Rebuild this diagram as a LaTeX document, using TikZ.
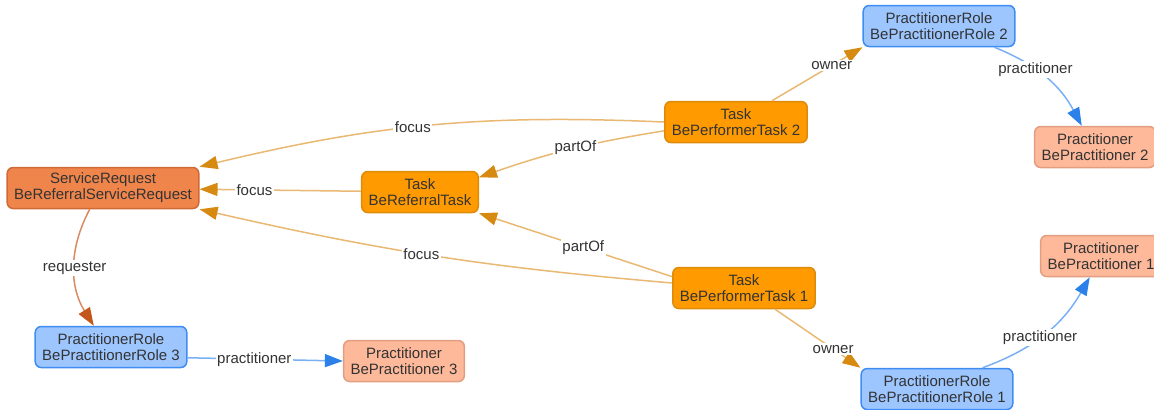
\documentclass[tikz,border=0pt]{standalone}
\usepackage{fontspec}
\setmainfont{Liberation Sans}
\usetikzlibrary{arrows.meta}
\usepackage{xcolor}
\definecolor{mtask}{HTML}{FF9A00}
\definecolor{mtaskd}{HTML}{DE8A0A}
\definecolor{mreq}{HTML}{F0854C}
\definecolor{mreqd}{HTML}{CF6A36}
\definecolor{mrole}{HTML}{9DC6FF}
\definecolor{mroled}{HTML}{3F8DF2}
\definecolor{mprac}{HTML}{FDB99A}
\definecolor{mpracd}{HTML}{E29E80}
\definecolor{morl}{HTML}{E9B872}
\definecolor{morh}{HTML}{D68A12}
\definecolor{mbll}{HTML}{78B0F5}
\definecolor{mblh}{HTML}{2B80EA}
\definecolor{mrql}{HTML}{DA8B62}
\definecolor{mrqh}{HTML}{C4561C}
\definecolor{mtext}{HTML}{333333}
\tikzstyle{l2}=[line width=0.75pt]
\tikzstyle{small}=[font=\fontsize{7.5}{8}\selectfont]
\tikzstyle{box}=[rectangle, rounded corners=3pt, l2, align=center, inner xsep=3.5pt, inner ysep=2pt, minimum height=20.5pt, text=mtext, small]
\tikzstyle{task}=[box, fill=mtask, draw=mtaskd]
\tikzstyle{req}=[box, fill=mreq, draw=mreqd]
\tikzstyle{role}=[box, fill=mrole, draw=mroled]
\tikzstyle{prac}=[box, fill=mprac, draw=mpracd]
\tikzstyle{orng}=[l2, color=morl, -{Triangle[length=9pt, width=6.5pt, color=morh]}]
\tikzstyle{blu}=[l2, color=mbll, -{Triangle[length=9pt, width=6.5pt, color=mblh]}]
\tikzstyle{reqst}=[l2, color=mrql, -{Triangle[length=9pt, width=6.5pt, color=mrqh]}]
\tikzstyle{lbl}=[fill=white, inner sep=0.8pt, text=mtext, small]

\begin{document}
\begin{tikzpicture}[x=0.5pt, y=-0.5pt]
    \useasboundingbox (0,0) rectangle (1154,409);

    \node (sr) [req] at (103,188) {ServiceRequest\\BeReferralServiceRequest};
    \node (rt) [task] at (420,192) {Task\\BeReferralTask};
    \node (pt2) [task] at (736,122) {Task\\BePerformerTask 2};
    \node (pt1) [task] at (744,288) {Task\\BePerformerTask 1};
    \node (pr2) [role] at (939,26) {PractitionerRole\\BePractitionerRole 2};
    \node (pr1) [role] at (937,389) {PractitionerRole\\BePractitionerRole 1};
    \node (pr3) [role] at (111,347) {PractitionerRole\\BePractitionerRole 3};
    \node (p2) [prac] at (1095,147) {Practitioner\\BePractitioner 2};
    \node (p1) [prac] at (1101,256) {Practitioner\\BePractitioner 1};
    \node (p3) [prac] at (404,361) {Practitioner\\BePractitioner 3};

    % task links
    \draw[orng] (pt2.west) to[bend right=8] node[lbl, pos=0.54] (f2) {focus} (sr.north east);
    \draw[orng] (pt2.187) to[bend right=5] node[lbl, pos=0.47] (po2) {partOf} (rt.14);
    \draw[orng] (rt) -- node[lbl, pos=0.66] (f0) {focus} (sr);
    \draw[orng] (pt1.171) -- node[lbl, pos=0.46] (po1) {partOf} (rt.south east);
    \draw[orng] (pt1.176) to[bend left=4] node[lbl, pos=0.53] (f1) {focus} (sr.south east);
    \draw[orng] (pt2) -- node[lbl, pos=0.66] (o2) {owner} (pr2.south west);
    \draw[orng] (pt1) -- node[lbl, pos=0.68] (o1) {owner} (pr1.north west);

    % practitioner links
    \draw[blu] (pr2.339) to[bend left=20] node[lbl, pos=0.38] (pp2) {practitioner} (p2.122);
    \draw[blu] (pr1.25) to[bend right=20] node[lbl, pos=0.45] (pp1) {practitioner} (p1.242);
    \draw[blu] (pr3.-8) -- node[lbl, pos=0.43] (pp3) {practitioner} (p3.west);

    \draw[reqst] (sr.238) to[bend right=30] node[lbl, pos=0.5] (rq) {requester} (pr3.129);
\end{tikzpicture}
\end{document}
